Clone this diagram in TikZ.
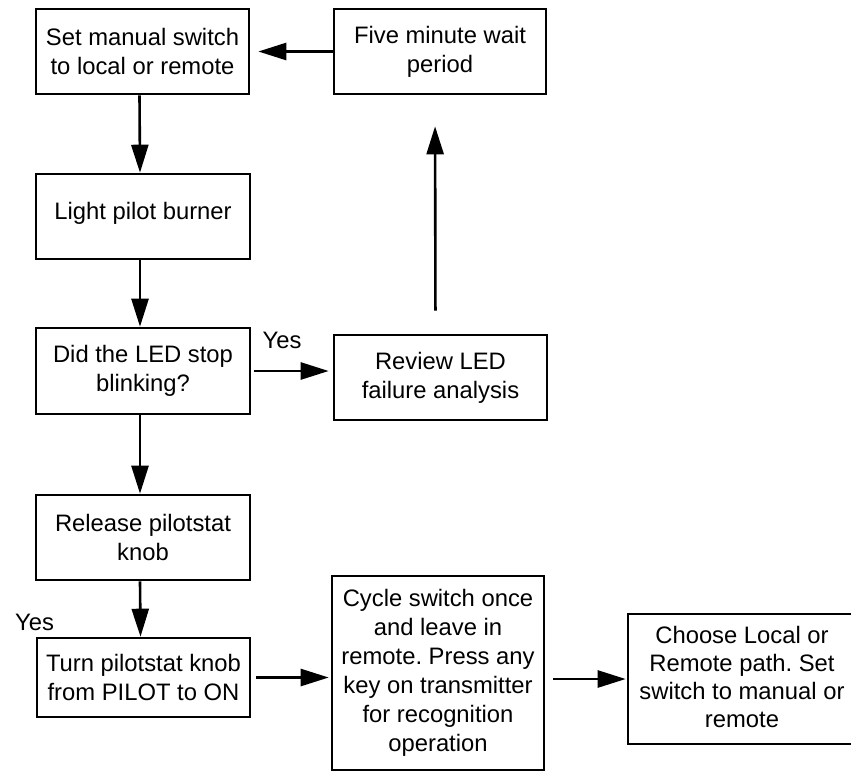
\documentclass[tikz,border=0pt]{standalone}
\usepackage{fontspec}
\setmainfont{Liberation Sans}
\usetikzlibrary{arrows.meta}
\frenchspacing
\begin{document}
\begin{tikzpicture}[x=1pt,y=-1pt,
  every node/.style={font=\fontsize{23.8}{29}\selectfont, inner sep=0pt, align=center},
  stepbox/.style={draw, line width=2.6pt, align=center, inner sep=0pt},
  arr/.style={line width=2.6pt, -{Triangle[length=28pt,width=17pt]}}]
\useasboundingbox (0,0) rectangle (851,772);
\fill[white] (0,0) rectangle (851,772);
\node[stepbox, minimum width=213pt, minimum height=85pt] (b1) at (142.5,51.5) {Set manual switch\\to local or remote};
\node[stepbox, minimum width=212pt, minimum height=85pt] (b2) at (440,51.5) {Five minute wait\\period};
\node[stepbox, minimum width=214pt, minimum height=85pt] (b3) at (143,216.5) {};
\node (t3) at (143,213) {Light pilot burner};
\node[stepbox, minimum width=214pt, minimum height=86pt] (b4) at (143,371) {Did the LED stop\\blinking?};
\node[stepbox, minimum width=213pt, minimum height=85pt] (b5) at (440.5,377.5) {Review LED\\failure analysis};
\node[stepbox, minimum width=214pt, minimum height=85pt] (b6) at (143,537.5) {Release pilotstat\\knob};
\node[stepbox, minimum width=213pt, minimum height=79pt] (b7) at (143.5,677.5) {Turn pilotstat knob\\from PILOT to ON};
\node[stepbox, minimum width=212pt, minimum height=194pt] (b8) at (438,673) {Cycle switch once\\and leave in\\remote. Press any\\key on transmitter\\for recognition\\operation};
\node[stepbox, minimum width=224pt, minimum height=130pt] (b9) at (740,679) {};
\node[font=\fontsize{23.8}{28}\selectfont] (t9) at (742,677) {Choose Local or\\Remote path. Set\\switch to manual or\\remote};
\node (y1) at (282,340.5) {Yes};
\node (y2) at (34.5,622) {Yes};
\draw[arr, shorten >=8pt] (b2.west) -- (b1.east);
\draw[arr] ([xshift=-3pt]b1.south) -- ([xshift=-3pt]b3.north);
\draw[arr] ([xshift=-3pt]b3.south) -- ([xshift=-3pt]b4.north);
\draw[arr, shorten <=3pt, shorten >=4pt] (b4.east) -- (b4.east -| b5.west);
\draw[arr, shorten <=23pt, shorten >=31pt] ([xshift=-5pt]b5.north) -- ([xshift=-5pt]b2.south);
\draw[arr] ([xshift=-3pt]b4.south) -- ([xshift=-3pt]b6.north);
\draw[arr] ([xshift=-3pt]b6.south) -- ([xshift=-3pt]b7.north);
\draw[arr, shorten <=5pt, shorten >=2pt] (b7.east) -- (b7.east -| b8.west);
\draw[arr, shorten <=8pt, shorten >=1pt] (b9.west -| b8.east) -- (b9.west);
\end{tikzpicture}
\end{document}
